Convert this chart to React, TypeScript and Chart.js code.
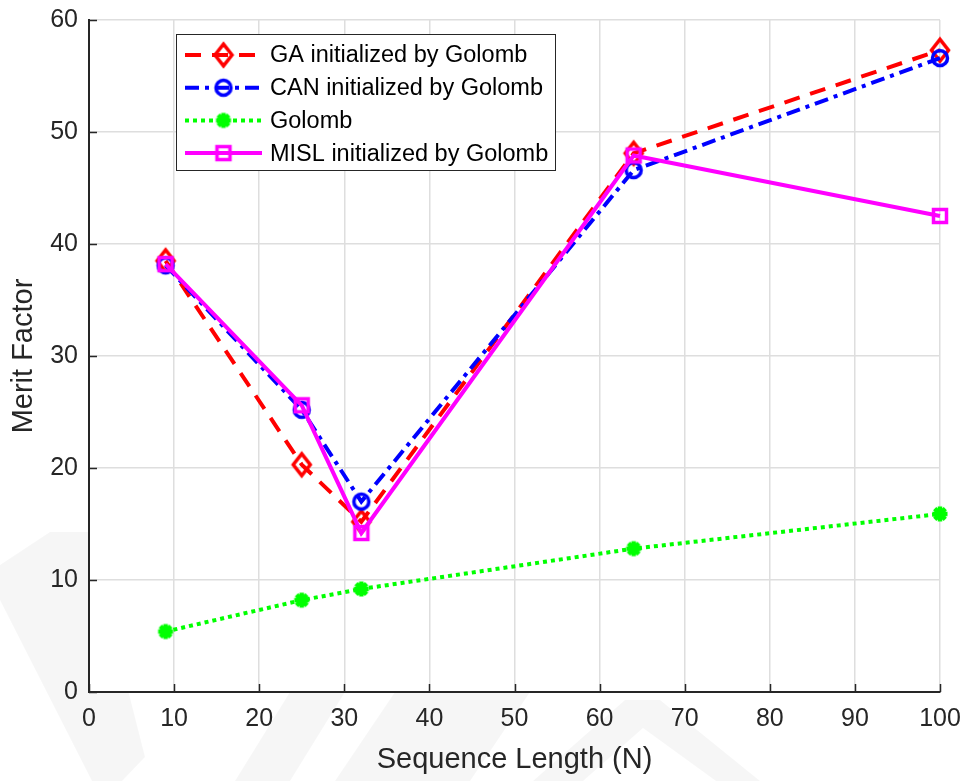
import React, { useEffect, useRef } from "react";
import { Chart, registerables } from "chart.js";

Chart.register(...registerables);

// Merit factor of sequences for several sequence lengths
const sequenceLengths = [9, 25, 32, 64, 100];
const gaMerit = [38.5, 20.3, 15.2, 48.1, 57.3];
const canMerit = [38.1, 25.2, 17.0, 46.6, 56.6];
const golombMerit = [5.4, 8.2, 9.2, 12.8, 15.9];
const mislMerit = [38.2, 25.6, 14.2, 47.9, 42.5];

const seriesLabels = [
  "GA initialized by Golomb",
  "CAN initialized by Golomb",
  "Golomb",
  "MISL initialized by Golomb",
];
const xTickValues = [0, 10, 20, 30, 40, 50, 60, 70, 80, 90, 100];
const yTickValues = [0, 10, 20, 30, 40, 50, 60];

const FONT = "'Liberation Sans', Arial, Helvetica, sans-serif";
const AXIS_COLOR = "#262626";
const GRID_COLOR = "#dedede";

type Marker = "diamond" | "circle" | "asterisk" | "square";

function strokeMarker(ctx: CanvasRenderingContext2D, style: Marker, x: number, y: number) {
  ctx.beginPath();
  if (style === "circle") {
    ctx.arc(x, y, 7.5, 0, Math.PI * 2);
  } else if (style === "diamond") {
    ctx.moveTo(x, y - 10.8);
    ctx.lineTo(x + 8.5, y);
    ctx.lineTo(x, y + 10.8);
    ctx.lineTo(x - 8.5, y);
    ctx.closePath();
  } else if (style === "square") {
    ctx.rect(x - 6.5, y - 6.5, 13, 13);
  } else {
    for (let k = 0; k < 4; k++) {
      const a = (k * Math.PI) / 4;
      ctx.moveTo(x - Math.cos(a) * 7.5, y - Math.sin(a) * 7.5);
      ctx.lineTo(x + Math.cos(a) * 7.5, y + Math.sin(a) * 7.5);
    }
  }
  ctx.stroke();
}

function markerImage(style: Marker, color: string, width: number): HTMLCanvasElement {
  const c = document.createElement("canvas");
  c.width = 32;
  c.height = 32;
  const ctx = c.getContext("2d")!;
  ctx.strokeStyle = color;
  ctx.lineWidth = width;
  ctx.lineJoin = "miter";
  strokeMarker(ctx, style, 16, 16);
  return c;
}

// faint watermark shapes, visible only outside the plot area
const watermarkPlugin = {
  id: "watermark",
  beforeDraw(chart: any) {
    const ctx: CanvasRenderingContext2D = chart.ctx;
    const a = chart.chartArea;
    const polys: number[][][] = [
      [[0, 565], [50, 532], [88, 532], [145, 757], [122, 781], [92, 781], [0, 600]],
      [[290, 692], [345, 692], [290, 781], [235, 781]],
      [[395, 692], [530, 692], [470, 781], [335, 781]],
      [[625, 700], [660, 700], [760, 781], [716, 781], [643, 728], [583, 781], [533, 781]],
    ];
    ctx.save();
    ctx.beginPath();
    ctx.rect(0, 0, chart.width, chart.height);
    ctx.rect(a.left, a.top, a.right - a.left, a.bottom - a.top);
    ctx.clip("evenodd");
    ctx.fillStyle = "rgba(0,0,0,0.035)";
    for (const p of polys) {
      ctx.beginPath();
      p.forEach(([px, py], i) => (i ? ctx.lineTo(px, py) : ctx.moveTo(px, py)));
      ctx.closePath();
      ctx.fill();
    }
    ctx.restore();
  },
};

// inward tick marks on the left and bottom axes
const innerTicksPlugin = {
  id: "innerTicks",
  afterDatasetsDraw(chart: any) {
    const { ctx, chartArea, scales } = chart;
    ctx.save();
    ctx.strokeStyle = AXIS_COLOR;
    ctx.lineWidth = 1.5;
    ctx.beginPath();
    for (const v of yTickValues) {
      const py = Math.round(scales.y.getPixelForValue(v)) + 0.5;
      ctx.moveTo(chartArea.left, py);
      ctx.lineTo(chartArea.left + 8, py);
    }
    for (const v of xTickValues) {
      const px = Math.round(scales.x.getPixelForValue(v)) + 0.5;
      ctx.moveTo(px, chartArea.bottom);
      ctx.lineTo(px, chartArea.bottom - 8);
    }
    ctx.stroke();
    ctx.restore();
  },
};

// boxed legend inside the plot, upper left
const legendBoxPlugin = {
  id: "legendBox",
  afterDraw(chart: any) {
    const ctx: CanvasRenderingContext2D = chart.ctx;
    const area = chart.chartArea;
    const x0 = area.left + 87;
    const y0 = area.top + 14;
    const w = 379;
    const h = 136;
    const rowH = 32.7;
    ctx.save();
    ctx.fillStyle = "#ffffff";
    ctx.fillRect(x0, y0, w, h);
    ctx.strokeStyle = AXIS_COLOR;
    ctx.lineWidth = 1;
    ctx.strokeRect(x0 + 0.5, y0 + 0.5, w, h);
    chart.data.datasets.forEach((ds: any, i: number) => {
      const cy = y0 + 21 + i * rowH;
      const lx0 = x0 + 9;
      const lx1 = x0 + 86;
      const mx = (lx0 + lx1) / 2;
      ctx.strokeStyle = ds.borderColor;
      ctx.lineWidth = ds.borderWidth;
      ctx.setLineDash(ds.borderDash || []);
      ctx.beginPath();
      ctx.moveTo(lx0, cy);
      ctx.lineTo(lx1, cy);
      ctx.stroke();
      ctx.setLineDash([]);
      const img = ds.pointStyle as HTMLCanvasElement;
      ctx.drawImage(img, mx - img.width / 2, cy - img.height / 2);
      ctx.fillStyle = "#000000";
      ctx.font = `23.5px ${FONT}`;
      ctx.textBaseline = "middle";
      ctx.textAlign = "left";
      ctx.fillText(ds.label, x0 + 94, cy + 1);
    });
    ctx.restore();
  },
};

export default function App() {
  const canvasRef = useRef<HTMLCanvasElement | null>(null);

  useEffect(() => {
    if (!canvasRef.current) return;
    const toPoints = (ys: number[]) => sequenceLengths.map((x, i) => ({ x, y: ys[i] }));
    const chart = new Chart(canvasRef.current, {
      type: "line",
      data: {
        datasets: [
          {
            label: seriesLabels[0],
            data: toPoints(gaMerit),
            borderColor: "#ff0000",
            borderWidth: 4,
            borderDash: [16, 11],
            pointStyle: markerImage("diamond", "#ff0000", 3.5),
            order: 3,
            clip: false,
          },
          {
            label: seriesLabels[1],
            data: toPoints(canMerit),
            borderColor: "#0000ff",
            borderWidth: 4,
            borderDash: [14, 6, 4, 6],
            pointStyle: markerImage("circle", "#0000ff", 3.5),
            order: 2,
            clip: false,
          },
          {
            label: seriesLabels[2],
            data: toPoints(golombMerit),
            borderColor: "#00ff00",
            borderWidth: 4,
            borderDash: [4, 4],
            pointStyle: markerImage("asterisk", "#00ff00", 4.5),
            order: 1,
            clip: false,
          },
          {
            label: seriesLabels[3],
            data: toPoints(mislMerit),
            borderColor: "#ff00ff",
            borderWidth: 4,
            pointStyle: markerImage("square", "#ff00ff", 3.5),
            order: 0,
            clip: false,
          },
        ] as any,
      },
      options: {
        animation: false,
        responsive: false,
        maintainAspectRatio: false,
        layout: { padding: { top: 20, right: 26, left: 0, bottom: 0 } },
        plugins: {
          legend: { display: false },
          tooltip: { enabled: false },
        },
        elements: { line: { tension: 0 }, point: { radius: 10 } },
        scales: {
          x: {
            type: "linear",
            min: 0,
            max: 100,
            afterBuildTicks: (s: any) => {
              s.ticks = xTickValues.map((value) => ({ value }));
            },
            afterFit: (s: any) => {
              s.height = 89;
              s.paddingLeft = 0;
              s.paddingRight = 0;
            },
            grid: {
              color: GRID_COLOR,
              lineWidth: 1.5,
              drawTicks: false,
            },
            border: { display: true, color: AXIS_COLOR, width: 2 },
            ticks: {
              color: AXIS_COLOR,
              font: { family: FONT, size: 25 },
              padding: 12,
              maxRotation: 0,
            },
            title: {
              display: true,
              text: "Sequence Length (N)",
              color: AXIS_COLOR,
              font: { family: FONT, size: 29 },
              padding: { top: 0, bottom: 4 },
            },
          },
          y: {
            type: "linear",
            min: 0,
            max: 60,
            afterBuildTicks: (s: any) => {
              s.ticks = yTickValues.map((value) => ({ value }));
            },
            afterFit: (s: any) => {
              s.width = 89;
              s.paddingTop = 0;
              s.paddingBottom = 0;
            },
            grid: {
              color: GRID_COLOR,
              lineWidth: 1.5,
              drawTicks: false,
            },
            border: { display: true, color: AXIS_COLOR, width: 2 },
            ticks: {
              color: AXIS_COLOR,
              font: { family: FONT, size: 25 },
              padding: 11,
            },
            title: {
              display: true,
              text: "Merit Factor",
              color: AXIS_COLOR,
              font: { family: FONT, size: 29 },
              padding: { top: 7, bottom: 0 },
            },
          },
        },
      },
      plugins: [watermarkPlugin, innerTicksPlugin, legendBoxPlugin],
    });
    return () => chart.destroy();
  }, []);

  return (
    <div style={{ position: "fixed", left: 0, top: 0, width: 966, height: 781, background: "#ffffff" }}>
      <canvas ref={canvasRef} width={966} height={781} style={{ width: 966, height: 781 }} />
    </div>
  );
}
